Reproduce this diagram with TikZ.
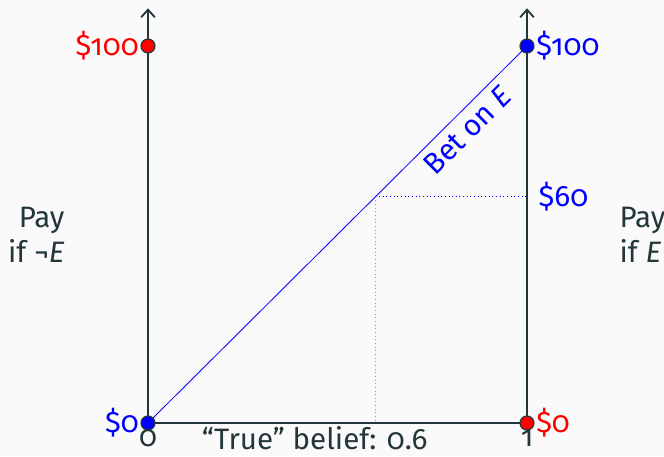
\documentclass[tikz,border=0pt]{standalone}
\usepackage{fontspec}
\setmainfont{Fira Sans}[Numbers=OldStyle]
\usepackage{xcolor}
\usepackage{tikz}
\usetikzlibrary{arrows.meta,positioning}
\definecolor{Ink}{HTML}{23373B}
\definecolor{Paper}{HTML}{FAFAFA}
\definecolor{NotE}{HTML}{FF0000}
\definecolor{IsE}{HTML}{0000FF}

\begin{document}
\begin{tikzpicture}[x=9.475cm,y=9.425cm,font=\fontsize{21}{25}\selectfont,>={Straight Barb[length=1.9mm,width=3.4mm]},
  every node/.style={text=Ink,inner sep=1pt},
  axis/.style={draw=Ink,line width=1.3pt},
  dot/.style={circle,draw=Ink,line width=0.8pt,inner sep=0pt,minimum size=3.5mm}]
  \useasboundingbox[fill=Paper] (-3.7cm,-0.825cm) rectangle (12.9cm,10.575cm);
  \coordinate (o) at (0,0);
  \coordinate (one) at (1,0);
  \coordinate (ltop) at (0,1.1);
  \coordinate (rtop) at (1,1.1);
  \coordinate (p60) at (1,0.6);
  \coordinate (corner) at (0.6,0.6);
  \coordinate (foot) at (0.6,0);
  % axes
  \draw[axis,->] (o) -- (ltop);
  \draw[axis,->] (one) -- (rtop);
  \draw[axis] (o) -- (one);
  % bet line and the 0.6 guides
  \draw[IsE,line width=0.6pt] (o) -- node[sloped,below=4pt,pos=0.81,text=IsE] (bet) {Bet on \textit{E}} (1,1);
  \draw[IsE,dotted,line width=0.6pt] (corner) -- (p60);
  \draw[Ink!50,dotted,line width=0.6pt] (corner) -- (foot);
  % end points
  \node[dot,fill=NotE] (lhi) at (0,1) {};
  \node[dot,fill=IsE] (rhi) at (1,1) {};
  \node[dot,fill=IsE] (llo) at (o) {};
  \node[dot,fill=NotE] (rlo) at (one) {};
  \node[left=0pt of lhi,text=NotE] (lhilab) {\$100};
  \node[right=0pt of rhi,text=IsE] (rhilab) {\$100};
  \node[left=0pt of llo,text=IsE] (llolab) {\$0};
  \node[right=0pt of rlo,text=NotE] (rlolab) {\$0};
  \node[anchor=west,xshift=2.5mm,text=IsE] (lab60) at (p60) {\$60};
  % axis labels
  \node[below=-2pt of llo] (zero) {0};
  \node[below=-2pt of rlo] (unit) {1};
  \node[anchor=north] (belief) at (0.44,-0.005) {“True” belief: 0.6};
  \node[anchor=east,align=right] (payne) at (-0.216,0.5) {Pay\\if ¬\textit{E}};
  \node[anchor=west,align=left] (paye) at (1.24,0.5) {Pay\\if \textit{E}};
\end{tikzpicture}
\end{document}
